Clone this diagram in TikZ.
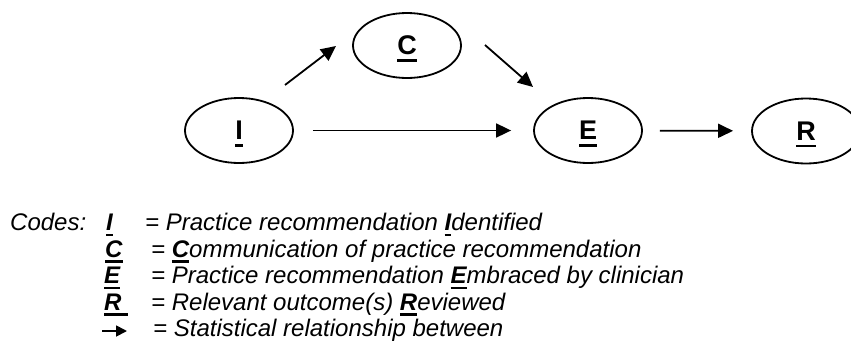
\documentclass[tikz,border=0pt]{standalone}
\usepackage{fontspec}
\setmainfont{Liberation Sans}
\usetikzlibrary{arrows.meta,shapes.geometric}

% underline with a heavy bar that does not change the box size
% #1 = distance of bar bottom below baseline, #2 = bar thickness, #3 = text
\newcommand\heavyul[3]{\setbox0=\hbox{#3}\rlap{\smash{\rule[-#1]{\wd0}{#2}}}\box0}
\newcommand\stagecode[1]{\heavyul{7pt}{2.7pt}{#1}}
\newcommand\keycode[1]{\heavyul{5.5pt}{2.3pt}{\bfseries #1}}

\tikzset{
  stage/.style={ellipse, draw, line width=1.8pt, minimum width=108pt,
    minimum height=65pt, inner sep=0pt,
    font=\fontsize{27}{30}\selectfont\bfseries},
  link/.style={line width=1.8pt,
    -{Triangle[length=15pt,width=14pt]}},
  keyarrow/.style={line width=1.8pt,
    -{Triangle[length=11pt,width=11pt]}},
  legend/.style={inner sep=0pt, anchor=base west,
    font=\fontsize{24}{26.5}\selectfont\itshape}
}

\begin{document}
\begin{tikzpicture}[x=1pt,y=-1pt]
  \useasboundingbox (0,0) rectangle (851,343);

  % stages of the process
  \node[stage] (I) at (239,130.5) {\stagecode{I}};
  \node[stage] (C) at (407,45.5)  {\stagecode{C}};
  \node[stage] (E) at (588,130.5) {\stagecode{E}};
  \node[stage] (R) at (806,131)   {\stagecode{R}};

  % statistical relationships
  \draw[link] ([shift={(46,-45.5)}]I.center) -- ([shift={(-71,0.5)}]C.center);
  \draw[link] ([shift={(78,-0.5)}]C.center) -- ([shift={(-55,-43.5)}]E.center);
  \draw[link, shorten <=19pt, shorten >=22pt] (I) -- (E);
  \draw[link, shorten <=17pt, shorten >=18pt] (E) -- (R);

  % key
  \node[legend] (codes) at (10,230.5) {Codes:};

  \node[legend] (kI) at (106,230.5) {\keycode{I}};
  \node[legend] (dI) at (145,230.5) {= Practice recommendation \keycode{I}dentified};

  \node[legend] (kC) at (105,257) {\keycode{C}};
  \node[legend] (dC) at (151,257) {= \keycode{C}ommunication of practice recommendation};

  \node[legend] (kE) at (104,283.5) {\keycode{E}};
  \node[legend] (dE) at (151,283.5) {= Practice recommendation \keycode{E}mbraced by clinician};

  \node[legend] (kR) at (104,310) {\keycode{R\ }};
  \node[legend] (dR) at (151,310) {= Relevant outcome(s) \keycode{R}eviewed};

  \coordinate (ka) at (102,331);
  \coordinate (kb) at (127,331);
  \draw[keyarrow] (ka) -- (kb);
  \node[legend] (dS) at (153,336.5) {= Statistical relationship between};
\end{tikzpicture}
\end{document}
